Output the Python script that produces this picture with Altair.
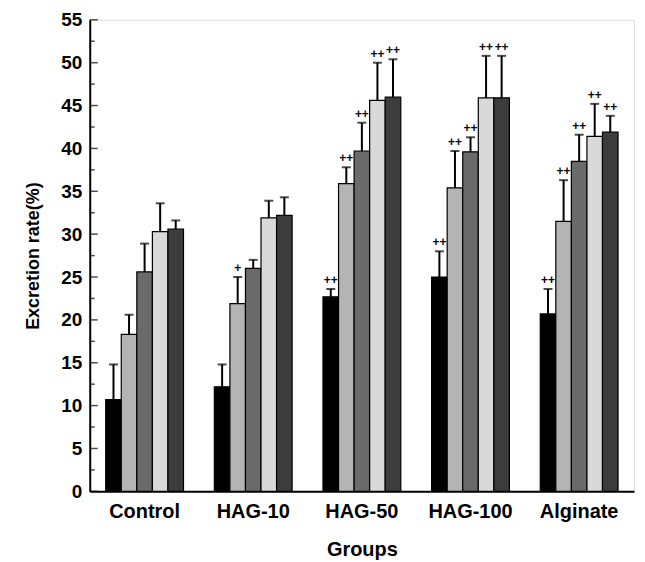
import altair as alt
import pandas as pd

groups = ["Control", "HAG-10", "HAG-50", "HAG-100", "Alginate"]
series = ["Bar 1", "Bar 2", "Bar 3", "Bar 4", "Bar 5"]

mean1 = [10.7, 12.2, 22.7, 25.0, 20.7]
mean2 = [18.3, 21.9, 35.9, 35.4, 31.5]
mean3 = [25.6, 26.0, 39.7, 39.6, 38.5]
mean4 = [30.3, 31.9, 45.6, 45.9, 41.4]
mean5 = [30.6, 32.2, 46.0, 45.9, 41.9]

upper1 = [14.8, 14.8, 23.6, 28.0, 23.6]
upper2 = [20.6, 25.0, 37.8, 39.7, 36.3]
upper3 = [28.9, 27.0, 43.0, 41.3, 41.6]
upper4 = [33.6, 33.9, 50.0, 50.8, 45.2]
upper5 = [31.6, 34.3, 50.4, 50.8, 43.8]

sig1 = ["", "", "++", "++", "++"]
sig2 = ["", "+", "++", "++", "++"]
sig3 = ["", "", "++", "++", "++"]
sig4 = ["", "", "++", "++", "++"]
sig5 = ["", "", "++", "++", "++"]

fills = ["#000000", "#b4b4b4", "#6a6a6a", "#d9d9d9", "#3c3c3c"]

major_ticks = [0, 5, 10, 15, 20, 25, 30, 35, 40, 45, 50, 55]
minor_ticks = [2.5, 7.5, 12.5, 17.5, 22.5, 27.5, 32.5, 37.5, 42.5, 47.5, 52.5]

rows = []
for s, m, u, g in zip(series, [mean1, mean2, mean3, mean4, mean5],
                      [upper1, upper2, upper3, upper4, upper5],
                      [sig1, sig2, sig3, sig4, sig5]):
    for grp, mv, uv, sv in zip(groups, m, u, g):
        rows.append({"group": grp, "series": s, "mean": mv, "upper": uv, "sig": sv})
df = pd.DataFrame(rows)

FONT = "Liberation Sans"

x_axis = alt.Axis(title="Groups", labelAngle=0, ticks=False, tickSize=0,
                  labelFontSize=20, labelFontWeight="bold", labelFont=FONT,
                  labelColor="black", labelPadding=10,
                  titleFontSize=20, titleFontWeight="bold", titleFont=FONT,
                  titleColor="black", titlePadding=18,
                  domainColor="black", domainWidth=2)
y_axis = alt.Axis(title="Excretion rate(%)", values=major_ticks, ticks=False, tickSize=0,
                  grid=False, labelFontSize=19, labelFontWeight="bold", labelFont=FONT,
                  labelColor="black", labelPadding=8,
                  titleFontSize=18, titleFontWeight="bold", titleFont=FONT,
                  titleColor="black", titlePadding=18,
                  domainColor="black", domainWidth=2)
x_scale = alt.Scale(paddingInner=0.284, paddingOuter=0.147)
y_scale = alt.Scale(domain=[0, 55], nice=False, zero=True)

x_enc = alt.X("group:N", sort=groups, scale=x_scale, axis=x_axis)
xoff = alt.XOffset("series:N", sort=series, scale=alt.Scale(paddingInner=0, paddingOuter=0))


def yenc(field):
    return alt.Y(field, scale=y_scale, axis=y_axis)


bars = alt.Chart(df).mark_bar(stroke="black", strokeWidth=1.2).encode(
    x=x_enc,
    xOffset=xoff,
    y=yenc("mean:Q"),
    fill=alt.Fill("series:N", sort=series, scale=alt.Scale(domain=series, range=fills), legend=None),
)

whisk = alt.Chart(df).mark_rule(color="black", strokeWidth=2).encode(
    x=x_enc, xOffset=xoff, y=yenc("mean:Q"), y2="upper:Q",
)
caps = alt.Chart(df).mark_tick(color="black", thickness=2, size=9, orient="horizontal").encode(
    x=x_enc, xOffset=xoff, y=yenc("upper:Q"),
)
stars = alt.Chart(df).mark_text(fontSize=12, fontWeight="bold", font=FONT, color="black",
                                baseline="bottom", dy=-2).encode(
    x=x_enc, xOffset=xoff, y=yenc("upper:Q"), text="sig:N",
)

major_df = pd.DataFrame({"v": major_ticks})
minor_df = pd.DataFrame({"v": minor_ticks})
major = alt.Chart(major_df).mark_tick(color="black", thickness=1.5, size=8, orient="horizontal").encode(
    y=yenc("v:Q"), x=alt.value(4))
minor = alt.Chart(minor_df).mark_tick(color="black", thickness=1.5, size=5, orient="horizontal").encode(
    y=yenc("v:Q"), x=alt.value(2.5))

chart = alt.layer(bars, whisk, caps, stars, major, minor).properties(
    width=546, height=473,
    autosize=alt.AutoSizeParams(type="none"),
    padding={"left": 82, "top": 11, "right": 3, "bottom": 68},
).configure_view(stroke="black", strokeWidth=2).configure(background="white")

chart.save("out.html", embed_options={"renderer": "svg", "actions": False})
